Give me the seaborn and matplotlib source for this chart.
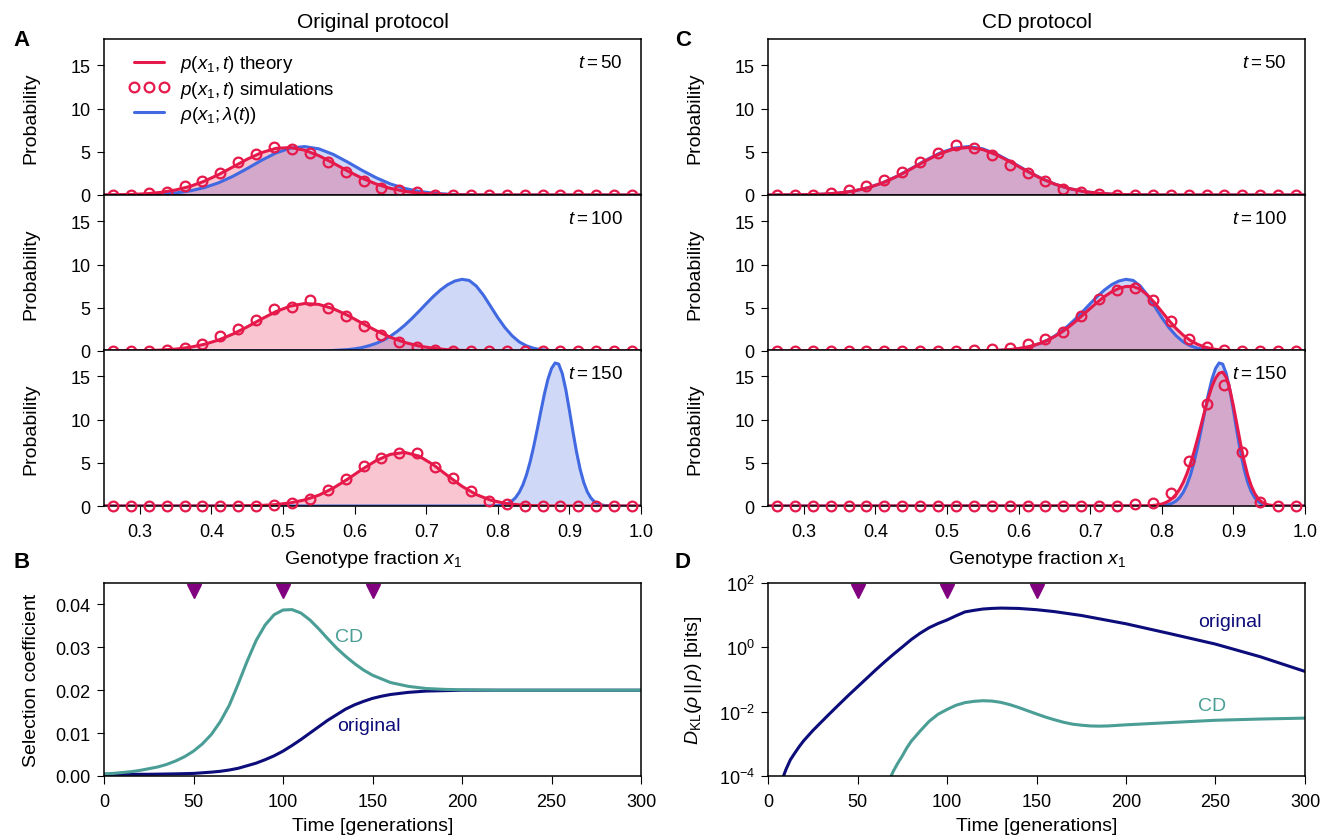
import matplotlib
matplotlib.use("Agg")
import matplotlib.pyplot as plt
import seaborn as sns
from matplotlib.lines import Line2D
from matplotlib.ticker import NullLocator

# ---------------- data ----------------
# histogram bin centres of the simulations
bin_centers = [0.2625, 0.2875, 0.3125, 0.3375, 0.3625, 0.3875, 0.4125, 0.4375, 0.4625, 0.4875,
               0.5125, 0.5375, 0.5625, 0.5875, 0.6125, 0.6375, 0.6625, 0.6875, 0.7125, 0.7375,
               0.7625, 0.7875, 0.8125, 0.8375, 0.8625, 0.8875, 0.9125, 0.9375, 0.9625, 0.9875]

sim_orig_50 = [0.0, 0.0, 0.2, 0.4, 1.0, 1.6, 2.6, 3.8, 4.7, 5.5, 5.3, 4.9, 3.8, 2.7, 1.6,
               0.85, 0.55, 0.3, 0.05, 0, 0, 0, 0, 0, 0, 0, 0, 0, 0, 0]
sim_orig_100 = [0, 0, 0, 0.1, 0.4, 0.8, 1.7, 2.5, 3.6, 4.8, 5.1, 5.9, 5.0, 4.0, 2.9,
                1.85, 1.0, 0.5, 0.15, 0, 0, 0, 0, 0, 0, 0, 0, 0, 0, 0]
sim_orig_150 = [0, 0, 0, 0, 0, 0, 0, 0, 0, 0.1, 0.3, 0.8, 1.8, 3.1, 4.6,
                5.6, 6.1, 6.1, 4.5, 3.2, 1.7, 0.6, 0.2, 0, 0, 0, 0, 0, 0, 0]
sim_cd_50 = [0, 0, 0, 0.25, 0.6, 1.0, 1.7, 2.7, 3.8, 4.9, 5.8, 5.4, 4.6, 3.5, 2.6,
             1.6, 0.7, 0.4, 0.1, 0, 0, 0, 0, 0, 0, 0, 0, 0, 0, 0]
sim_cd_100 = [0, 0, 0, 0, 0, 0, 0, 0, 0, 0, 0, 0.1, 0.25, 0.4, 0.8,
              1.35, 2.2, 4.0, 6.0, 7.0, 7.3, 5.9, 3.5, 1.35, 0.5, 0.1, 0, 0, 0, 0]
sim_cd_150 = [0, 0, 0, 0, 0, 0, 0, 0, 0, 0, 0, 0, 0, 0, 0,
              0, 0, 0, 0, 0, 0.2, 0.4, 1.5, 5.2, 11.8, 14.0, 6.3, 0.5, 0, 0]

# sample positions of the smooth curves
x_wide = [0.25, 0.27, 0.29, 0.31, 0.33, 0.35, 0.37, 0.39, 0.41, 0.43, 0.45, 0.47, 0.49,
          0.51, 0.53, 0.55, 0.57, 0.59, 0.61, 0.63, 0.65, 0.67, 0.69, 0.71, 0.73, 0.75,
          0.77, 0.79, 0.81, 0.83, 0.85, 0.87, 0.89, 0.91, 0.93, 0.95, 0.97, 0.99, 1.0]
x_mid = [0.25, 0.55, 0.57, 0.59, 0.60, 0.61, 0.62, 0.63, 0.64, 0.65, 0.66, 0.67, 0.68,
         0.69, 0.70, 0.71, 0.72, 0.73, 0.74, 0.75, 0.76, 0.77, 0.78, 0.79, 0.80, 0.81,
         0.82, 0.83, 0.84, 0.85, 0.86, 0.87, 0.88, 0.89, 0.90, 0.91, 0.92, 0.93, 1.0]
x_narrow = [0.25, 0.78, 0.79, 0.80, 0.805, 0.81, 0.815, 0.82, 0.825, 0.83, 0.835, 0.84,
            0.845, 0.85, 0.855, 0.86, 0.865, 0.87, 0.875, 0.88, 0.885, 0.89, 0.895, 0.90,
            0.905, 0.91, 0.915, 0.92, 0.925, 0.93, 0.935, 0.94, 0.945, 0.95, 0.96, 0.97, 1.0]

# target distributions rho(x1; lambda(t)), same in both protocols
rho_50 = [0, 0.01, 0.02, 0.05, 0.11, 0.24, 0.47, 0.85, 1.41, 2.16, 3.06, 4.01, 4.85,
          5.42, 5.60, 5.34, 4.70, 3.82, 2.87, 2.00, 1.28, 0.76, 0.42, 0.21, 0.10, 0.04,
          0.02, 0.01, 0, 0, 0, 0, 0, 0, 0, 0, 0, 0, 0]
rho_100 = [0, 0.02, 0.06, 0.16, 0.25, 0.39, 0.61, 0.88, 1.24, 1.71, 2.30, 2.98, 3.76,
           4.60, 5.47, 6.31, 7.06, 7.67, 8.09, 8.29, 8.16, 7.51, 6.45, 5.16, 3.86, 2.70,
           1.76, 1.05, 0.60, 0.32, 0.16, 0.07, 0.03, 0.01, 0, 0, 0, 0, 0]
rho_150 = [0, 0, 0.01, 0.05, 0.10, 0.18, 0.34, 0.59, 0.99, 1.59, 2.44, 3.59,
           5.06, 6.83, 8.82, 10.90, 12.92, 14.65, 15.90, 16.54, 16.41, 15.32, 13.45, 11.07,
           8.57, 6.23, 4.25, 2.73, 1.64, 0.93, 0.49, 0.25, 0.12, 0.05, 0.01, 0, 0]

# theory p(x1, t)
p_orig_50 = [0.01, 0.03, 0.07, 0.15, 0.31, 0.58, 0.99, 1.59, 2.36, 3.24, 4.14, 4.90, 5.39,
             5.49, 5.19, 4.55, 3.70, 2.79, 1.96, 1.27, 0.77, 0.43, 0.22, 0.11, 0.05, 0.02,
             0.01, 0, 0, 0, 0, 0, 0, 0, 0, 0, 0, 0, 0]
p_orig_100 = [0, 0.01, 0.02, 0.05, 0.11, 0.22, 0.43, 0.77, 1.27, 1.96, 2.79, 3.70, 4.55,
              5.19, 5.49, 5.39, 4.90, 4.14, 3.24, 2.36, 1.59, 0.99, 0.58, 0.31, 0.15, 0.07,
              0.03, 0.01, 0, 0, 0, 0, 0, 0, 0, 0, 0, 0, 0]
p_orig_150 = [0, 0, 0, 0, 0, 0, 0, 0, 0, 0.01, 0.03, 0.07, 0.16,
              0.36, 0.70, 1.25, 2.06, 3.09, 4.21, 5.25, 5.97, 6.20, 5.77, 4.77, 3.50, 2.28,
              1.32, 0.68, 0.31, 0.13, 0.04, 0.01, 0, 0, 0, 0, 0, 0, 0]
p_cd_50 = [0, 0.01, 0.02, 0.05, 0.11, 0.24, 0.47, 0.84, 1.40, 2.14, 3.02, 3.95, 4.77,
           5.33, 5.50, 5.25, 4.62, 3.76, 2.83, 1.97, 1.27, 0.76, 0.42, 0.21, 0.10, 0.04,
           0.02, 0.01, 0, 0, 0, 0, 0, 0, 0, 0, 0, 0, 0]
p_cd_100 = [0, 0.02, 0.07, 0.18, 0.29, 0.43, 0.62, 0.89, 1.23, 1.66, 2.17, 2.78, 3.45,
            4.18, 4.92, 5.64, 6.30, 6.85, 7.24, 7.46, 7.47, 7.13, 6.47, 5.57, 4.55, 3.53,
            2.60, 1.82, 1.22, 0.77, 0.46, 0.26, 0.14, 0.07, 0.04, 0.02, 0.01, 0, 0]
p_cd_150 = [0, 0.02, 0.08, 0.23, 0.38, 0.60, 0.91, 1.36, 1.96, 2.74, 3.72, 4.90,
            6.27, 7.80, 9.40, 11.01, 12.51, 13.80, 14.77, 15.35, 15.48, 14.88, 13.51, 11.59,
            9.40, 7.20, 5.21, 3.57, 2.31, 1.41, 0.81, 0.44, 0.23, 0.11, 0.02, 0, 0]

# selection coefficient vs time
t_sel_cd = [0, 5, 10, 15, 20, 25, 30, 35, 40, 45, 50, 55, 60, 65, 70, 75, 80, 85, 90, 95,
            100, 105, 110, 115, 120, 125, 130, 135, 140, 145, 150, 160, 170, 180, 190, 200,
            220, 250, 300]
sel_cd = [0.0005, 0.0006, 0.0008, 0.0010, 0.0013, 0.0017, 0.0021, 0.0027, 0.0035, 0.0045,
          0.0058, 0.0075, 0.0097, 0.0127, 0.0165, 0.0215, 0.0268, 0.0316, 0.0352, 0.0376,
          0.0387, 0.0388, 0.0380, 0.0364, 0.0343, 0.0320, 0.0298, 0.0279, 0.0262, 0.0247,
          0.0235, 0.0218, 0.0209, 0.0204, 0.0202, 0.0201, 0.0200, 0.0200, 0.0200]
t_sel_orig = [0, 25, 40, 50, 60, 65, 70, 75, 80, 85, 90, 95, 100, 105, 110, 115, 120, 125,
              130, 135, 140, 145, 150, 155, 160, 170, 180, 190, 200, 250, 300]
sel_orig = [0.0004, 0.0004, 0.0005, 0.0006, 0.0009, 0.0011, 0.0014, 0.0018, 0.0024, 0.0030,
            0.0038, 0.0047, 0.0058, 0.0071, 0.0085, 0.0100, 0.0115, 0.0130, 0.0143, 0.0156,
            0.0166, 0.0174, 0.0181, 0.0186, 0.0190, 0.0195, 0.0198, 0.0199, 0.0200, 0.0200,
            0.0200]

# KL divergence vs time
t_kl_orig = [8, 10, 12.5, 15, 17.5, 20, 25, 30, 35, 40, 45, 50, 55, 60, 65, 70, 75, 80, 85,
             90, 95, 100, 105, 110, 115, 120, 125, 130, 140, 150, 160, 175, 200, 225, 250,
             275, 300]
kl_orig = [7.9e-5, 1.58e-4, 3.2e-4, 5.2e-4, 8.3e-4, 1.26e-3, 2.57e-3, 4.9e-3, 9.3e-3,
           0.0174, 0.0324, 0.0589, 0.107, 0.195, 0.347, 0.603, 1.02, 1.74, 2.75, 4.07, 5.5,
           7.08, 9.55, 12.6, 14.1, 15.5, 16.2, 16.6, 16.2, 14.8, 12.9, 9.8, 5.4, 2.63, 1.26,
           0.51, 0.178]
t_kl_cd = [68, 70, 72.5, 75, 77.5, 80, 85, 90, 95, 100, 105, 110, 115, 120, 125, 130, 135,
           140, 145, 150, 155, 160, 165, 170, 175, 180, 185, 190, 200, 225, 250, 275, 300]
kl_cd = [7.9e-5, 1.41e-4, 2.5e-4, 4.2e-4, 7.4e-4, 1.2e-3, 2.5e-3, 5.0e-3, 8.3e-3, 0.0117,
         0.0158, 0.0191, 0.0209, 0.0219, 0.0214, 0.0195, 0.0166, 0.0135, 0.0107, 0.0085,
         0.0068, 0.0056, 0.0047, 0.0041, 0.0038, 0.0036, 0.00355, 0.0036, 0.0039, 0.0046,
         0.0054, 0.0059, 0.0063]

snapshot_times = [50, 100, 150]

RED = "#E6194B"
BLUE = "#4169E1"
TEAL = "#4A9E95"
NAVY = "#0C0C7A"
PURPLE = "#800080"

sns.set_style("ticks", {"axes.edgecolor": "black", "text.color": "black",
                        "xtick.color": "black", "ytick.color": "black",
                        "axes.labelcolor": "black"})
plt.rcParams["font.family"] = ["Liberation Sans", "DejaVu Sans"]
plt.rcParams["mathtext.fontset"] = "custom"
plt.rcParams["mathtext.rm"] = "Liberation Sans"
plt.rcParams["mathtext.it"] = "Liberation Sans:italic"
plt.rcParams["mathtext.bf"] = "Liberation Sans:bold"
plt.rcParams["axes.linewidth"] = 1.1
plt.rcParams["xtick.major.size"] = 5.5
plt.rcParams["ytick.major.size"] = 5
plt.rcParams["xtick.major.pad"] = 6.5
plt.rcParams["ytick.major.pad"] = 4.5
plt.rcParams["xtick.labelsize"] = 13
plt.rcParams["ytick.labelsize"] = 13
plt.rcParams["axes.labelsize"] = 14
plt.rcParams["axes.labelpad"] = 5

fig = plt.figure(figsize=(13.2, 8.37), dpi=100)

W, H = 1320, 837
col_left = [104 / W, 768 / W]
col_w = 537 / W
stack_h = (507 - 40) / 3 / H
stack_bottoms = [1 - 196 / H, 1 - 352 / H, 1 - 507 / H]


def dist_panel(ax, rho_x, rho_y, p_x, p_y, sim_y, t, last):
    ax.fill_between(rho_x, rho_y, color=BLUE, alpha=0.25, lw=0)
    ax.fill_between(p_x, p_y, color=RED, alpha=0.25, lw=0)
    sns.lineplot(x=rho_x, y=rho_y, ax=ax, color=BLUE, lw=2.2)
    sns.lineplot(x=p_x, y=p_y, ax=ax, color=RED, lw=2.2)
    ax.plot(bin_centers, sim_y, "o", mfc="none", mec=RED, mew=1.6, ms=7,
            clip_on=False, zorder=5)
    ax.set_xlim(0.25, 1.0)
    ax.set_ylim(0, 18)
    ax.set_yticks([0, 5, 10, 15])
    ax.set_xticks([0.3, 0.4, 0.5, 0.6, 0.7, 0.8, 0.9, 1.0])
    ax.set_ylabel("Probability")
    ax.yaxis.set_label_coords(-0.12, 0.5)
    ax.text(0.966, 0.853, "$t=%d$" % t, transform=ax.transAxes, ha="right",
            va="center", fontsize=13.5)
    if last:
        ax.set_xlabel("Genotype fraction $x_1$", labelpad=6)
    else:
        ax.set_xlabel("")
        ax.tick_params(axis="x", length=0, labelbottom=False)


rho_sets = [(x_wide, rho_50), (x_mid, rho_100), (x_narrow, rho_150)]
p_sets = [
    [(x_wide, p_orig_50, sim_orig_50), (x_wide, p_orig_100, sim_orig_100),
     (x_wide, p_orig_150, sim_orig_150)],
    [(x_wide, p_cd_50, sim_cd_50), (x_mid, p_cd_100, sim_cd_100),
     (x_narrow, p_cd_150, sim_cd_150)],
]
titles = ["Original protocol", "CD protocol"]

for c in range(2):
    for r in range(3):
        ax = fig.add_axes([col_left[c], stack_bottoms[r], col_w, stack_h])
        px, py, sy = p_sets[c][r]
        dist_panel(ax, rho_sets[r][0], rho_sets[r][1], px, py, sy,
                   snapshot_times[r], r == 2)
        if r == 0:
            ax.set_title(titles[c], fontsize=15, pad=9)
            if c == 0:
                handles = [
                    Line2D([], [], color=RED, lw=2.2),
                    Line2D([], [], ls="none", marker="o", mfc="none", mec=RED,
                           mew=1.6, ms=7),
                    Line2D([], [], color=BLUE, lw=2.2),
                ]
                labels = [r"$p(x_1, t)$ theory", r"$p(x_1, t)$ simulations",
                          r"$\rho(x_1; \lambda(t))$"]
                ax.legend(handles, labels, loc="upper left",
                          bbox_to_anchor=(0.019, 1.0), frameon=False,
                          numpoints=3, fontsize=13.5, handlelength=2.2,
                          borderaxespad=0.35, labelspacing=0.22, handletextpad=0.55)

bottom_h = (777 - 584) / H
bottom_y = 1 - 777 / H

# panel B: selection coefficient
axb = fig.add_axes([col_left[0], bottom_y, col_w, bottom_h])
sns.lineplot(x=t_sel_orig, y=sel_orig, ax=axb, color=NAVY, lw=2.2)
sns.lineplot(x=t_sel_cd, y=sel_cd, ax=axb, color=TEAL, lw=2.2)
axb.plot(snapshot_times, [0.96] * 3, "v", color=PURPLE, ms=10,
         transform=axb.get_xaxis_transform(), clip_on=False)
axb.text(137, 0.0326, "CD", color=TEAL, ha="center", va="center", fontsize=14)
axb.text(148, 0.0117, "original", color=NAVY, ha="center", va="center", fontsize=14)
axb.set_xlim(0, 300)
axb.set_ylim(0, 0.045)
axb.set_xticks([0, 50, 100, 150, 200, 250, 300])
axb.set_yticks([0, 0.01, 0.02, 0.03, 0.04])
axb.set_yticklabels(["0.00", "0.01", "0.02", "0.03", "0.04"])
axb.set_xlabel("Time [generations]")
axb.set_ylabel("Selection coefficient")
axb.yaxis.set_label_coords(-0.12, 0.5)

# panel D: KL divergence
axd = fig.add_axes([col_left[1], bottom_y, col_w, bottom_h])
sns.lineplot(x=t_kl_orig, y=kl_orig, ax=axd, color=NAVY, lw=2.2)
sns.lineplot(x=t_kl_cd, y=kl_cd, ax=axd, color=TEAL, lw=2.2)
axd.set_yscale("log")
axd.plot(snapshot_times, [0.96] * 3, "v", color=PURPLE, ms=10,
         transform=axd.get_xaxis_transform(), clip_on=False)
axd.text(258, 6.5, "original", color=NAVY, ha="center", va="center", fontsize=14)
axd.text(248, 0.0155, "CD", color=TEAL, ha="center", va="center", fontsize=14)
axd.set_xlim(0, 300)
axd.set_ylim(1e-4, 1e2)
axd.set_yticks([1e-4, 1e-2, 1e0, 1e2])
axd.yaxis.set_minor_locator(NullLocator())
axd.set_xticks([0, 50, 100, 150, 200, 250, 300])
axd.set_xlabel("Time [generations]")
axd.set_ylabel(r"$D_{\mathrm{KL}}(\rho\,||\,\rho)$ [bits]")
axd.yaxis.set_label_coords(-0.12, 0.5)

# panel letters
for letter, (fx, fy) in zip("ABCD", [(22, 40), (22, 562), (683, 40), (683, 562)]):
    fig.text(fx / W, 1 - fy / H, letter, fontsize=16, fontweight="bold",
             ha="center", va="center")

fig.savefig("out.png", dpi=100)
